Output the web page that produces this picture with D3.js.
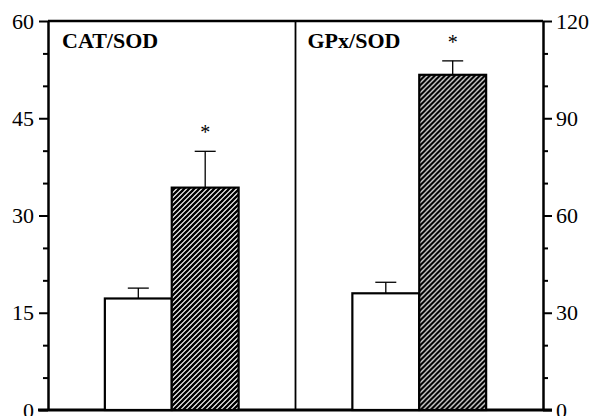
<!DOCTYPE html>
<html><head><meta charset="utf-8">
<script src="https://cdn.jsdelivr.net/npm/d3@7"></script>
<style>body{margin:0;background:#fff}svg{display:block}text{font-family:"Liberation Serif","Times New Roman",serif;fill:#000}</style>
</head><body>
<script>
const panels = ["CAT/SOD", "GPx/SOD"];
const groups = ["control", "treated"];
const controlValues = [17.2, 36.0];
const controlErrors = [1.6, 3.4];
const treatedValues = [34.3, 103.4];
const treatedErrors = [5.6, 4.3];
const leftTicks = [0, 15, 30, 45, 60];
const rightTicks = [0, 30, 60, 90, 120];

const W = 593, H = 416;
const FONT = "'Liberation Serif', 'Times New Roman', serif";
const svg = d3.select("body").append("svg").attr("width", W).attr("height", H);
const defs = svg.append("defs");
const pat = defs.append("pattern").attr("id", "hatch").attr("patternUnits", "userSpaceOnUse")
  .attr("width", 5).attr("height", 5);
pat.append("rect").attr("width", 5).attr("height", 5).attr("fill", "#fff");
pat.append("path").attr("d", "M-1,1 l2,-2 M0,5 l5,-5 M4,6 l2,-2").attr("stroke", "#000").attr("stroke-width", 2.3);

const x0 = 48, x1 = 543, yTop = 21, yBot = 410;
const xPanel = d3.scaleBand().domain(panels).range([x0, x1]).padding(0);
const xGroup = d3.scaleBand().domain(groups).range([0, xPanel.bandwidth()]).paddingInner(0).paddingOuter(0.85);
const yL = d3.scaleLinear().domain([0, 60]).range([yBot, yTop]);
const yR = d3.scaleLinear().domain([0, 120]).range([yBot, yTop]);
const scales = [yL, yR];

// frame
svg.append("line").attr("x1", x0).attr("x2", x1).attr("y1", yTop).attr("y2", yTop).attr("stroke", "#000").attr("stroke-width", 2.5);
svg.append("line").attr("x1", xPanel(panels[1])).attr("x2", xPanel(panels[1])).attr("y1", yTop).attr("y2", yBot).attr("stroke", "#000").attr("stroke-width", 1.8);

// axes
const leftAxis = d3.axisLeft(yL).tickValues(d3.range(0, 61, 5)).tickSize(0).tickFormat("");
const gL = svg.append("g").attr("transform", `translate(${x0},0)`).call(leftAxis);
gL.select(".domain").attr("stroke-width", 2.5);
gL.selectAll(".tick line").attr("x2", d => leftTicks.includes(d) ? -9 : -5).attr("stroke-width", 2);
svg.append("g").attr("font-family", FONT).selectAll("text").data(leftTicks).join("text")
  .attr("x", 34).attr("y", d => yL(d)).attr("dy", "0.35em").attr("text-anchor", "end")
  .attr("font-size", 22).text(d => d);

const rightAxis = d3.axisRight(yR).tickValues(d3.range(0, 121, 10)).tickSize(0).tickFormat("");
const gR = svg.append("g").attr("transform", `translate(${x1},0)`).call(rightAxis);
gR.select(".domain").attr("stroke-width", 2.5);
gR.selectAll(".tick line").attr("x2", d => rightTicks.includes(d) ? 9 : 5).attr("stroke-width", 2);
svg.append("g").attr("font-family", FONT).selectAll("text").data(rightTicks).join("text")
  .attr("x", 556).attr("y", d => yR(d)).attr("dy", "0.35em").attr("text-anchor", "start")
  .attr("font-size", 22).text(d => d);

// bottom line
svg.append("line").attr("x1", x0 - 10).attr("x2", x1 + 9).attr("y1", yBot).attr("y2", yBot).attr("stroke", "#000").attr("stroke-width", 3);

panels.forEach((p, i) => {
  const y = scales[i];
  const data = [
    {g: "control", v: controlValues[i], e: controlErrors[i], fill: "#fff"},
    {g: "treated", v: treatedValues[i], e: treatedErrors[i], fill: "url(#hatch)"}
  ];
  const g = svg.append("g").attr("transform", `translate(${xPanel(p)},0)`).attr("font-family", FONT);
  g.selectAll("line.err").data(data).join("line").attr("class", "err")
    .attr("x1", d => xGroup(d.g) + xGroup.bandwidth() / 2).attr("x2", d => xGroup(d.g) + xGroup.bandwidth() / 2)
    .attr("y1", d => y(d.v)).attr("y2", d => y(d.v + d.e)).attr("stroke", "#000").attr("stroke-width", 1.3);
  g.selectAll("line.cap").data(data).join("line").attr("class", "cap")
    .attr("x1", d => xGroup(d.g) + xGroup.bandwidth() / 2 - 10.5).attr("x2", d => xGroup(d.g) + xGroup.bandwidth() / 2 + 10.5)
    .attr("y1", d => y(d.v + d.e)).attr("y2", d => y(d.v + d.e)).attr("stroke", "#000").attr("stroke-width", 1.3);
  g.selectAll("rect").data(data).join("rect")
    .attr("x", d => xGroup(d.g)).attr("width", xGroup.bandwidth())
    .attr("y", d => y(d.v)).attr("height", d => yBot - y(d.v))
    .attr("fill", d => d.fill).attr("stroke", "#000").attr("stroke-width", 2.2);
  const t = data[1];
  g.append("text").attr("x", xGroup("treated") + xGroup.bandwidth() / 2)
    .attr("y", y(t.v + t.e) - 12).attr("text-anchor", "middle").attr("font-size", 20).text("*");
  g.append("text").attr("x", i === 0 ? 14 : 12).attr("y", 48).attr("font-size", 22).attr("font-weight", "bold").text(p);
});
</script>
</body></html>
